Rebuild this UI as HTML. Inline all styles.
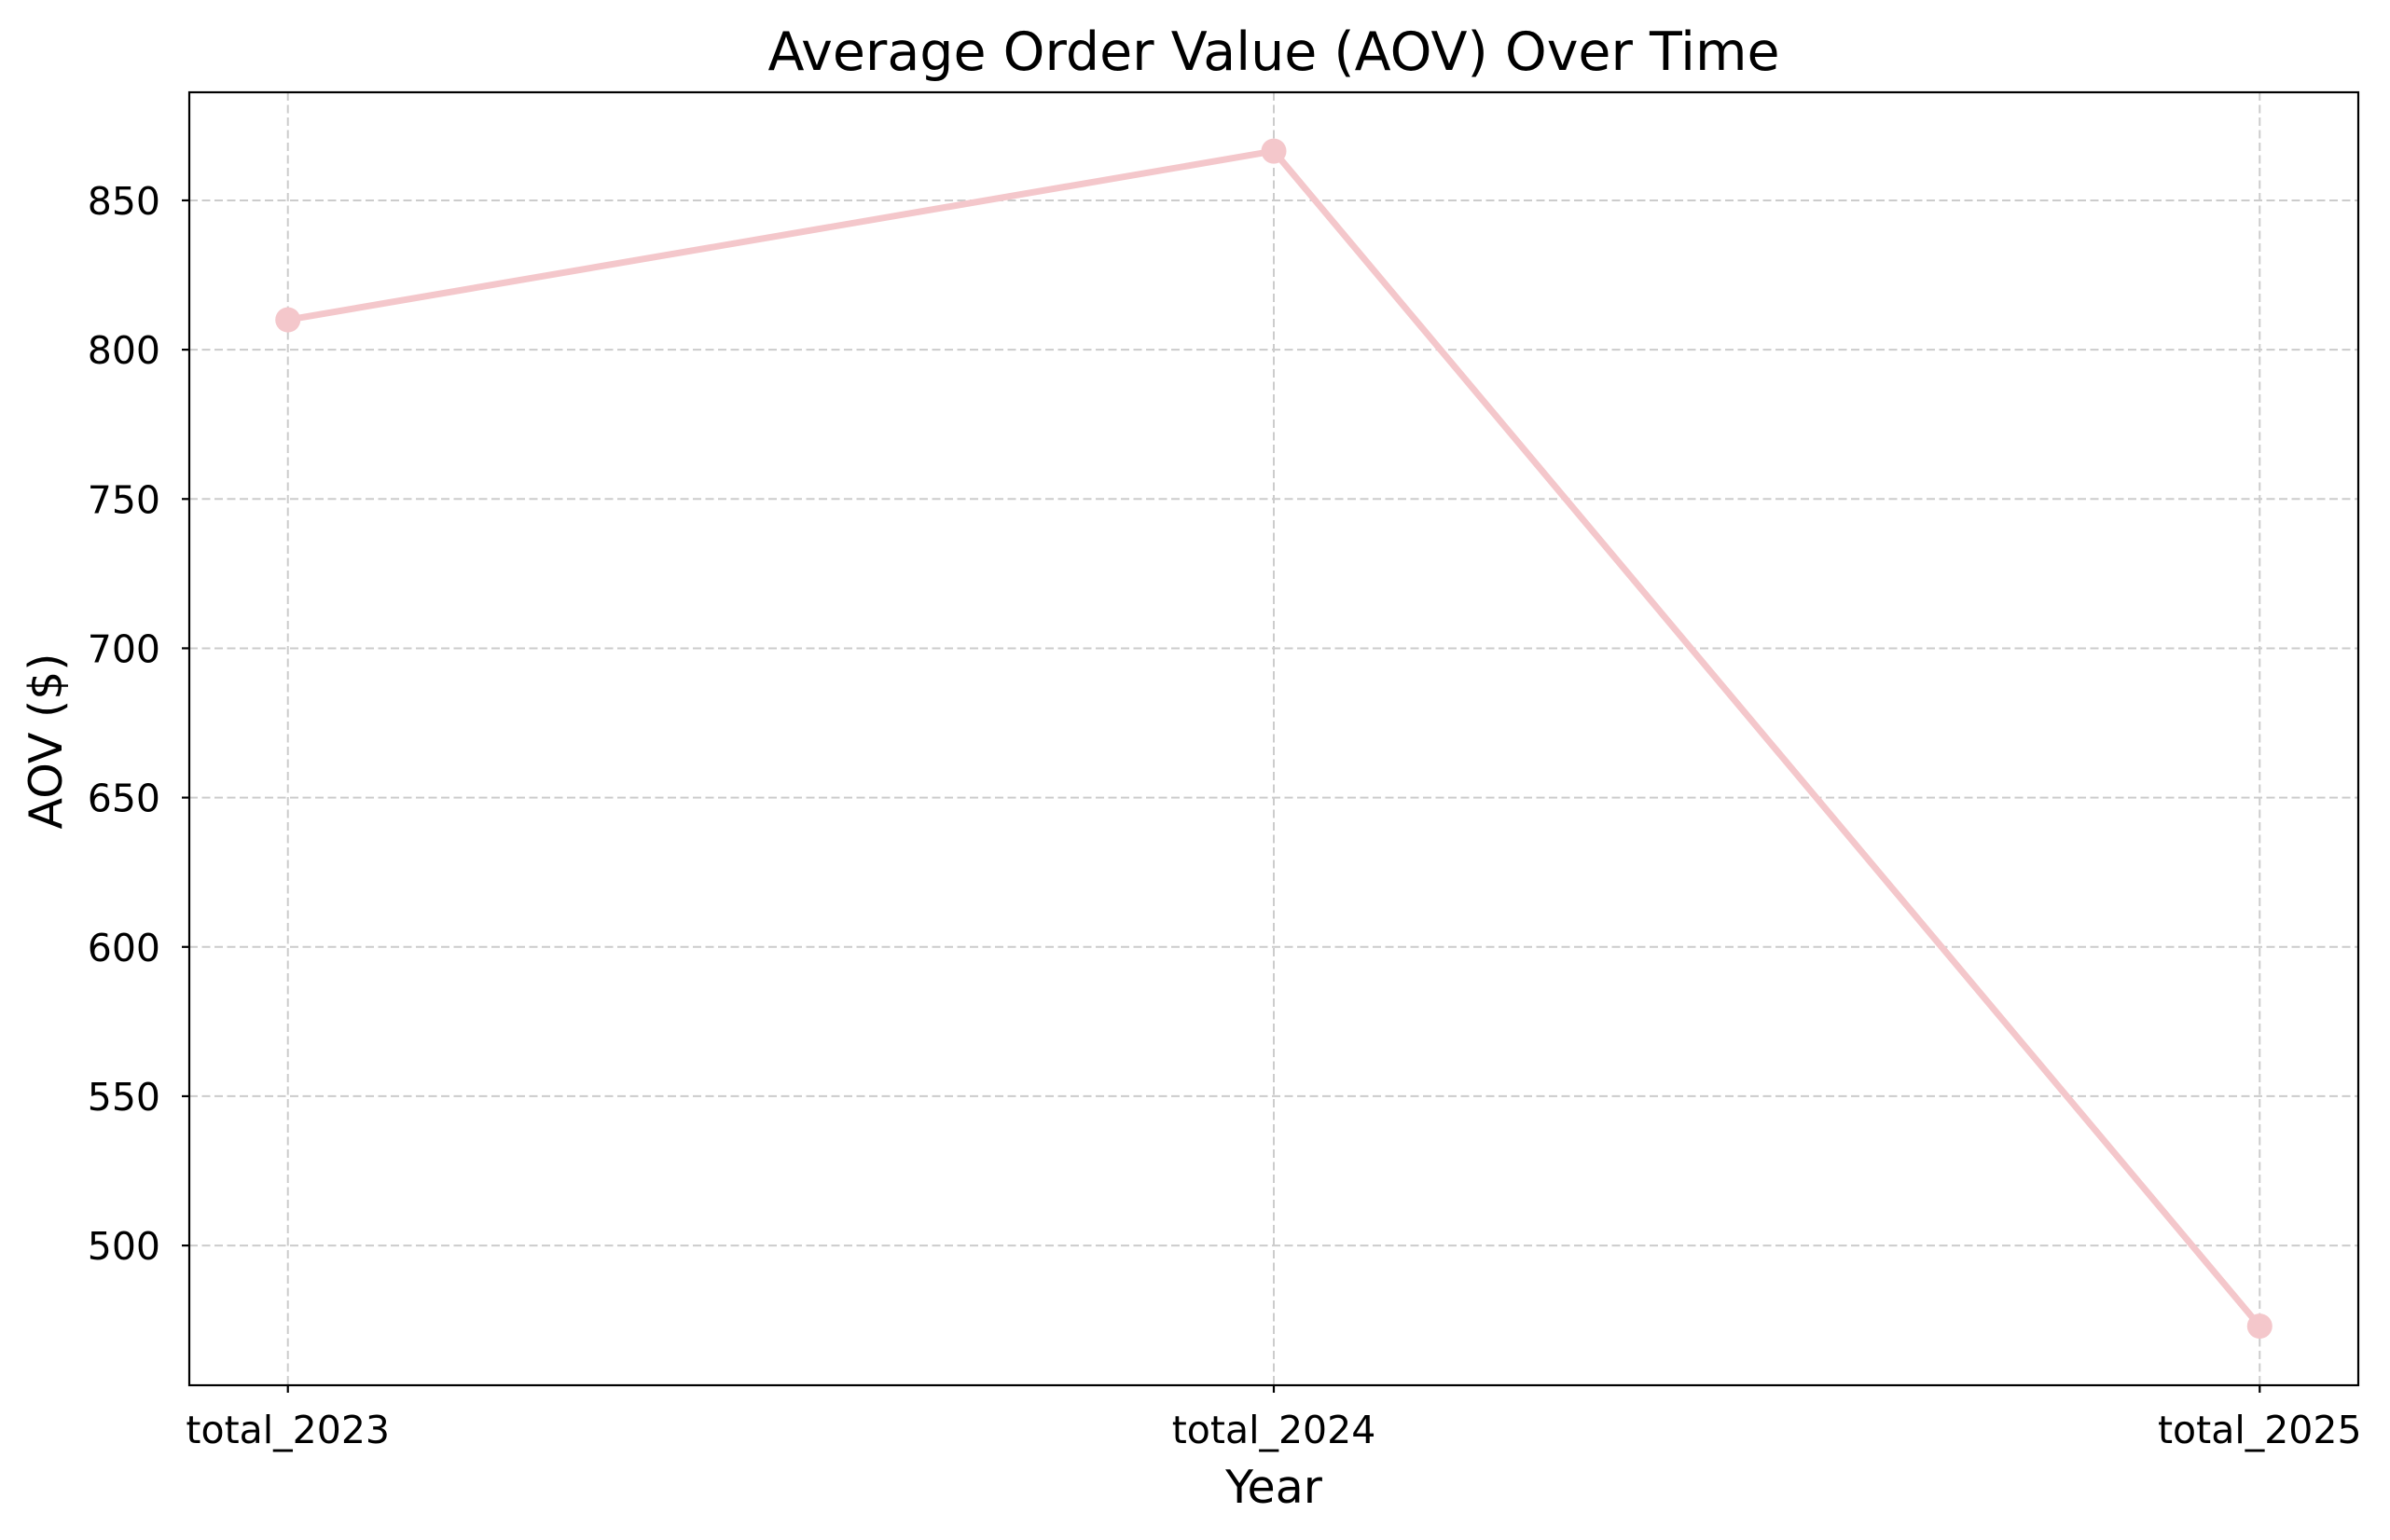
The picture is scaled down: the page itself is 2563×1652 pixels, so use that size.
<!DOCTYPE html>
<html><head><meta charset="utf-8"><style>
html,body{margin:0;padding:0;background:#fff;}
svg{display:block;font-family:"DejaVu Sans","Liberation Sans",sans-serif;}
</style></head><body>
<svg id="chart" width="2563" height="1652" viewBox="0 0 2563 1652" xmlns="http://www.w3.org/2000/svg">
<rect width="2563" height="1652" fill="#fff"/>
<g id="grid"></g>
<g id="series"></g>
<rect x="203" y="99" width="2326" height="1387" fill="none" stroke="#000" stroke-width="2.2"/>
<g id="ticks"></g>
<text x="1366" y="75" font-size="57" text-anchor="middle">Average Order Value (AOV) Over Time</text>
<text x="1366" y="1612" font-size="49" text-anchor="middle">Year</text>
<text x="0" y="0" font-size="49" text-anchor="middle" transform="translate(66,795) rotate(-90)">AOV ($)</text>
</svg>
<script>
const categories = ["total_2023","total_2024","total_2025"];
const aovValues = [810, 866.5, 473];
const yTicks = [500,550,600,650,700,750,800,850];

const L=203,R=2529,T=99,B=1486;
const xMin=-0.1,xMax=2.1,yMin=453.2,yMax=886.2;
function xs(i){return L+(i-xMin)/(xMax-xMin)*(R-L);}
function ys(v){return B-(v-yMin)/(yMax-yMin)*(B-T);}
const NS="http://www.w3.org/2000/svg";
function mk(tag,attrs,parent){const e=document.createElementNS(NS,tag);for(const k in attrs)e.setAttribute(k,attrs[k]);parent.appendChild(e);return e;}
const grid=document.getElementById('grid'),ticks=document.getElementById('ticks'),series=document.getElementById('series');

yTicks.forEach(v=>{
  const y=ys(v);
  const g=mk('line',{x1:L,x2:R,y1:y,y2:y,stroke:'#cccccc','stroke-width':2,'stroke-dasharray':'9,4.5'},grid);
  
  
  const t=mk('line',{x1:L-8,x2:L,y1:y,y2:y,stroke:'#000','stroke-width':2.2},ticks);
  
  
  const lb=mk('text',{x:172,y:y+15,'font-size':41,'text-anchor':'end'},ticks);
  lb.textContent=v;
  
  
});
categories.forEach((c,i)=>{
  const x=xs(i);
  const g=mk('line',{x1:x,x2:x,y1:T,y2:B,stroke:'#cccccc','stroke-width':2,'stroke-dasharray':'9,4.5'},grid);
  
  
  const t=mk('line',{x1:x,x2:x,y1:B,y2:B+8,stroke:'#000','stroke-width':2.2},ticks);
  
  
  const lb=mk('text',{x:x,y:1548,'font-size':41,'text-anchor':'middle'},ticks);
  lb.textContent=c;
  
  
});
const pts=aovValues.map((v,i)=>xs(i)+','+ys(v)).join(' ');
const line=mk('polyline',{points:pts,fill:'none',stroke:'#f4c7cb','stroke-width':7,'stroke-linejoin':'round'},series);


aovValues.forEach((v,i)=>{
  const c=mk('circle',{cx:xs(i),cy:ys(v),r:13.5,fill:'#f4c7cb'},series);
  
  
});
</script>
</body></html>
